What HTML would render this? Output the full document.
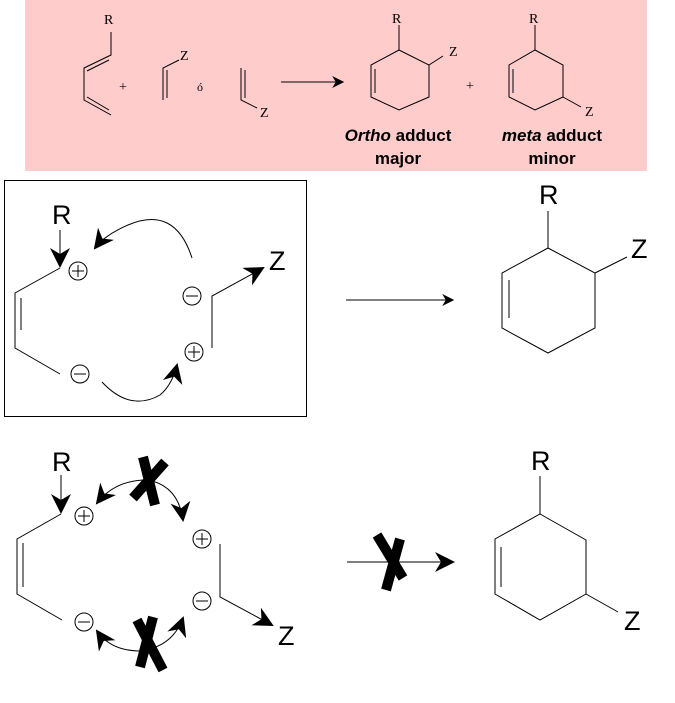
<!DOCTYPE html>
<html><head><meta charset="utf-8"><style>
html,body{margin:0;padding:0;background:#fff;}
svg{display:block;}
</style></head><body>
<svg width="675" height="703" viewBox="0 0 675 703" xmlns="http://www.w3.org/2000/svg">
<defs>
<marker id="ah" viewBox="0 0 10 10" refX="9" refY="5" markerWidth="12" markerHeight="12" markerUnits="userSpaceOnUse" orient="auto"><path d="M0,0 L10,5 L0,10 L3,5 z" fill="#000"/></marker>
<marker id="ahb" viewBox="0 0 10 10" refX="9" refY="5" markerWidth="20" markerHeight="20" markerUnits="userSpaceOnUse" orient="auto"><path d="M0,0 L10,5 L0,10 L3,5 z" fill="#000"/></marker>
</defs>
<rect x="25" y="0" width="622" height="171" fill="#ffcccc"/>
<g stroke="#000" stroke-width="1" fill="none">
<!-- top diene -->
<path d="M111,32 L111,55 L84,68 L84,100 L111,115"/>
<path d="M109,60 L87,71 M87,97 L109,110"/>
<!-- dienophile 1 -->
<path d="M179,60 L163,68 L163,100 M167,70 L167,98"/>
<!-- dienophile 2 -->
<path d="M241,68 L241,100 L257,108 M245,70 L245,98"/>
<path d="M281,82 L343,82" marker-end="url(#ah)"/>
<!-- ortho ring -->
<path d="M399,25 L399,50"/>
<path d="M399,50 L429,65 L429,97 L399,110 L371,97 L371,65 Z M429,65 L443,56"/>
<path d="M375,69 L375,93"/>
<!-- meta ring -->
<path d="M535,25 L535,50"/>
<path d="M535,50 L563,65 L563,97 L535,110 L509,97 L509,65 Z M563,97 L581,107"/>
<path d="M513,69 L513,93"/>
</g>
<g font-family="Liberation Serif, serif" font-size="14">
<text x="104" y="24">R</text>
<text x="180" y="60">Z</text>
<text x="119" y="91">+</text>
<text x="197" y="91" font-size="12">ó</text>
<text x="260" y="117">Z</text>
<text x="392" y="23">R</text>
<text x="449" y="56">Z</text>
<text x="466" y="90">+</text>
<text x="529" y="23">R</text>
<text x="585" y="116">Z</text>
</g>
<g font-family="Liberation Sans, sans-serif" font-size="17" font-weight="bold" text-anchor="middle">
<text x="398" y="141"><tspan font-style="italic">Ortho</tspan> adduct</text>
<text x="398" y="164">major</text>
<text x="552" y="141"><tspan font-style="italic">meta</tspan> adduct</text>
<text x="552" y="164">minor</text>
</g>

<!-- middle box -->
<rect x="4.5" y="180.5" width="302" height="236" fill="none" stroke="#000"/>
<g stroke="#000" stroke-width="1" fill="none">
<path d="M60,230 L60,266" marker-end="url(#ahb)"/>
<path d="M60,268 L15,293 L15,348 L60,374 M21,298 L21,330"/>
<circle cx="78" cy="271" r="9"/><path d="M72,271 H84 M78,265 V277"/>
<circle cx="192" cy="296" r="9"/><path d="M186,296 H198"/>
<circle cx="194" cy="352" r="9"/><path d="M188,352 H200 M194,346 V358"/>
<circle cx="80" cy="374" r="9"/><path d="M74,374 H86"/>
<path d="M192,258 Q175,205 128,225 Q105,235 95,248" marker-end="url(#ahb)"/>
<path d="M102,382 Q130,412 160,395 Q172,385 177,365" marker-end="url(#ahb)"/>
<path d="M212,348 L212,296 L263,268" marker-end="url(#ahb)"/>
<path d="M346,300 L453,300" marker-end="url(#ah)"/>
<!-- middle product -->
<path d="M548,211 L548,248"/>
<path d="M548,248 L595,273 L595,328 L548,353 L502,328 L502,273 Z M595,273 L627,257"/>
<path d="M509,280 L509,318"/>
</g>
<g font-family="Liberation Sans, sans-serif" font-size="27">
<text x="52" y="224">R</text>
<text x="269" y="270">Z</text>
<text x="539" y="204">R</text>
<text x="631" y="258">Z</text>
</g>

<!-- bottom -->
<g stroke="#000" stroke-width="1" fill="none">
<path d="M61,475 L61,512" marker-end="url(#ahb)"/>
<path d="M61,514 L17,539 L17,594 L62,620 M23,543 L23,587"/>
<circle cx="84" cy="516" r="9"/><path d="M78,516 H90 M84,510 V522"/>
<circle cx="202" cy="539" r="9"/><path d="M196,539 H208 M202,533 V545"/>
<circle cx="202" cy="601" r="9"/><path d="M196,601 H208"/>
<circle cx="84" cy="622" r="9"/><path d="M78,622 H90"/>
<path d="M147,480 Q115,480 97,503" marker-end="url(#ahb)"/>
<path d="M147,480 Q178,485 183,520" marker-end="url(#ahb)"/>
<path d="M138,651 Q110,650 97,631" marker-end="url(#ahb)"/>
<path d="M138,651 Q172,648 183,618" marker-end="url(#ahb)"/>
<path d="M220,544 L220,597 L272,625" marker-end="url(#ahb)"/>
<path d="M347,562 L453,562" marker-end="url(#ahb)"/>
<path d="M540,476 L540,514"/>
<path d="M540,514 L586,540 L586,594 L540,620 L495,594 L495,539 Z M586,594 L618,612"/>
<path d="M501,547 L501,587"/>
</g>
<g stroke="#000" stroke-width="10" fill="none">
<path d="M133,498 L165,462 M143,457 L155,505"/>
<path d="M137,620 L163,670 M140,667 L153,617"/>
<path d="M377,535 L403,578 M400,539 L386,590"/>
</g>
<g font-family="Liberation Sans, sans-serif" font-size="27">
<text x="52" y="471">R</text>
<text x="278" y="645">Z</text>
<text x="531" y="470">R</text>
<text x="624" y="630">Z</text>
</g>
</svg>
</body></html>
